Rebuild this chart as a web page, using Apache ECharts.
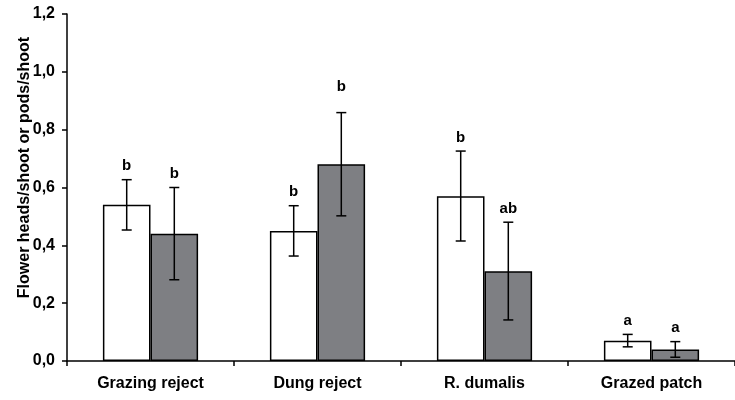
<!DOCTYPE html>
<html>
<head>
<meta charset="utf-8">
<script src="https://cdn.jsdelivr.net/npm/echarts@6/dist/echarts.min.js"></script>
<style>
  html, body { margin: 0; padding: 0; background: #fff; }
  #chart { width: 735px; height: 400px; }
</style>
</head>
<body>
<div id="chart"></div>
<script>
// Flower heads (open bars) and pods (grey bars) per shoot by patch type
const categories = ['Grazing reject', 'Dung reject', 'R. dumalis', 'Grazed patch'];

const headsMean = [0.54, 0.45, 0.57, 0.07];
const headsLow  = [0.453, 0.363, 0.415, 0.049];
const headsHigh = [0.627, 0.537, 0.726, 0.092];
const headsLetters = ['b', 'b', 'b', 'a'];

const podsMean = [0.44, 0.68, 0.31, 0.04];
const podsLow  = [0.281, 0.502, 0.142, 0.013];
const podsHigh = [0.60, 0.859, 0.48, 0.067];
const podsLetters = ['b', 'b', 'ab', 'a'];

const yTicks = [0, 0.2, 0.4, 0.6, 0.8, 1.0, 1.2];

const FONT = 'Liberation Sans, Arial, sans-serif';
const CAT_GAP = 0.43;        // share of each category left empty
const LETTER_GAP = 6;        // space between whisker cap and letter
const letterLift = { '1-1': 12 }; // extra lift for the taller Dung reject letter

const chart = echarts.init(document.getElementById('chart'), null, { renderer: 'canvas' });

function errorSeries(idx, low, high, letters) {
  const data = categories.map((c, i) => [i, low[i], high[i], letters[i]]);
  return {
    type: 'custom',
    z: 5,
    data: data,
    encode: { x: 0, y: [1, 2] },
    renderItem: function (params, api) {
      const i = api.value(0);
      const catW = api.size([1, 0])[0];
      const barW = catW * (1 - CAT_GAP) / 2;
      const off = (idx === 0 ? -0.5 : 0.5) * barW;
      const pLow = api.coord([i, api.value(1)]);
      const pHigh = api.coord([i, api.value(2)]);
      const x = pLow[0] + off;
      const cap = 5;
      const st = { stroke: '#000', lineWidth: 1.5 };
      const lift = LETTER_GAP + (letterLift[idx + '-' + i] || 0);
      return {
        type: 'group',
        children: [
          { type: 'line', shape: { x1: x, y1: pLow[1], x2: x, y2: pHigh[1] }, style: st },
          { type: 'line', shape: { x1: x - cap, y1: pHigh[1], x2: x + cap, y2: pHigh[1] }, style: st },
          { type: 'line', shape: { x1: x - cap, y1: pLow[1], x2: x + cap, y2: pLow[1] }, style: st },
          {
            type: 'text',
            style: {
              x: x, y: pHigh[1] - lift,
              text: letters[i],
              fill: '#000',
              font: 'bold 15px ' + FONT,
              textAlign: 'center',
              textVerticalAlign: 'bottom'
            }
          }
        ]
      };
    }
  };
}

const option = {
  animation: false,
  backgroundColor: '#fff',
  grid: { left: 67, width: 674, top: 14, bottom: 39, containLabel: false },
  xAxis: {
    type: 'category',
    data: categories,
    axisLine: { lineStyle: { color: '#000', width: 1.5 } },
    axisTick: { show: true, length: 5, lineStyle: { color: '#000', width: 1.5 } },
    axisLabel: { color: '#000', fontFamily: FONT, fontWeight: 'bold', fontSize: 16, margin: 15 },
    splitLine: { show: false }
  },
  yAxis: {
    type: 'value',
    min: 0, max: 1.2, interval: 0.2,
    name: 'Flower heads/shoot or pods/shoot',
    nameLocation: 'middle',
    nameGap: 34,
    nameMoveOverlap: false,
    nameTextStyle: { color: '#000', fontFamily: FONT, fontWeight: 'bold', fontSize: 16, padding: [0, 0, 0, 40] },
    axisLine: { show: true, lineStyle: { color: '#000', width: 1.5 } },
    axisTick: { show: true, length: 5, lineStyle: { color: '#000', width: 1.5 } },
    axisLabel: {
      color: '#000', fontFamily: FONT, fontWeight: 'bold', fontSize: 16, margin: 12,
      formatter: v => yTicks.find(t => Math.abs(t - v) < 1e-9).toFixed(1).replace('.', ',')
    },
    splitLine: { show: false }
  },
  series: [
    {
      type: 'bar', name: 'Flower heads', data: headsMean,
      barGap: '0%', barCategoryGap: (CAT_GAP * 100) + '%',
      itemStyle: { color: '#ffffff', borderColor: '#000', borderWidth: 1.5 }
    },
    {
      type: 'bar', name: 'Pods', data: podsMean,
      barGap: '0%', barCategoryGap: (CAT_GAP * 100) + '%',
      itemStyle: { color: '#7e7f83', borderColor: '#000', borderWidth: 1.5 }
    },
    errorSeries(0, headsLow, headsHigh, headsLetters),
    errorSeries(1, podsLow, podsHigh, podsLetters)
  ]
};

chart.setOption(option);
</script>
</body>
</html>
